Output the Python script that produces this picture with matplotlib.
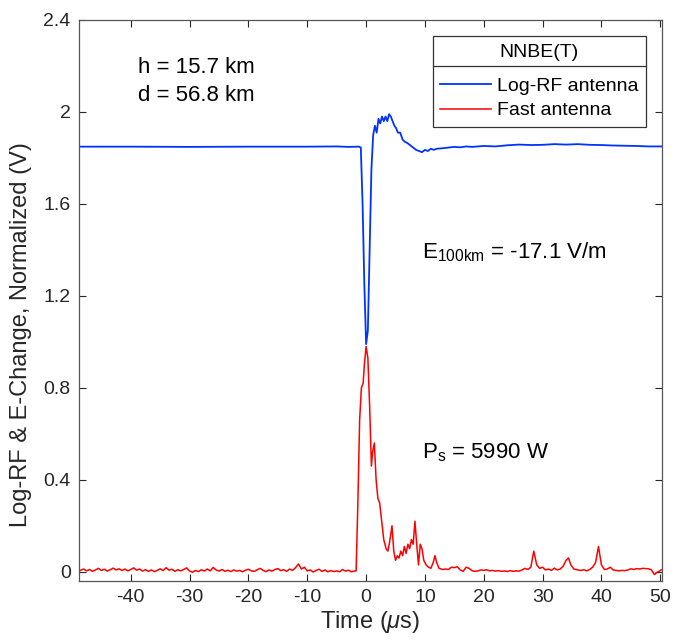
import numpy as np
import matplotlib.pyplot as plt
from matplotlib.lines import Line2D
from matplotlib.ticker import FormatStrFormatter

plt.rcParams['font.family'] = ['Liberation Sans', 'DejaVu Sans']
plt.rcParams['mathtext.fontset'] = 'custom'
plt.rcParams['mathtext.rm'] = 'Liberation Sans'
plt.rcParams['mathtext.it'] = 'Liberation Sans:italic'
plt.rcParams['axes.unicode_minus'] = False

# Log-RF antenna (blue)
rf_t = [-48.7, -40, -30, -20, -10, -5, -3, -1.2, -0.9, -0.6, -0.3, 0.0, 0.3, 0.6, 0.9,
        1.2, 1.5, 1.8, 2.1, 2.4, 2.7, 3.0, 3.3, 3.6, 3.9, 4.2, 4.5, 4.8, 5.1, 5.4,
        5.8, 6.2, 6.6, 7.0, 7.5, 8.0, 8.5, 9.0, 9.5, 10.0, 10.5, 11.0, 11.5, 12.0,
        13.0, 14.0, 15.0, 16.0, 17.0, 18.0, 20.0, 22.0, 24.0, 26.0, 28.0, 30.0,
        32.0, 34.0, 36.0, 38.0, 40.0, 42.0, 44.0, 46.0, 48.0, 50.3]
rf_v = [1.849, 1.849, 1.848, 1.849, 1.849, 1.850, 1.848, 1.849, 1.845, 1.60, 1.25, 0.99,
        1.05, 1.40, 1.75, 1.90, 1.94, 1.91, 1.97, 1.95, 1.98, 1.96, 1.98, 1.96, 1.99,
        1.98, 1.96, 1.94, 1.93, 1.91, 1.91, 1.88, 1.87, 1.865, 1.855, 1.845, 1.835,
        1.83, 1.825, 1.835, 1.83, 1.84, 1.835, 1.84, 1.842, 1.845, 1.848, 1.846,
        1.850, 1.848, 1.852, 1.850, 1.855, 1.858, 1.856, 1.857, 1.860, 1.858, 1.860,
        1.857, 1.856, 1.854, 1.853, 1.852, 1.850, 1.850]

# Fast antenna (red)
fa_t_pre = [-48.7, -48.0, -47.5, -47.0, -46.5, -46.0, -45.5, -45.0, -44.5, -44.0,
            -43.5, -43.0, -42.5, -42.0, -41.5, -41.0, -40.5, -40.0, -39.5, -39.0,
            -38.5, -38.0, -37.5, -37.0, -36.5, -36.0, -35.5, -35.0, -34.5, -34.0,
            -33.5, -33.0, -32.5, -32.0, -31.5, -31.0, -30.5, -30.0, -29.5, -29.0,
            -28.5, -28.0, -27.5, -27.0, -26.5, -26.0, -25.5, -25.0, -24.5, -24.0,
            -23.5, -23.0, -22.5, -22.0, -21.5, -21.0, -20.5, -20.0, -19.5, -19.0,
            -18.5, -18.0, -17.5, -17.0, -16.5, -16.0, -15.5, -15.0, -14.5, -14.0,
            -13.5, -13.0, -12.5, -12.0, -11.5, -11.0, -10.5, -10.0, -9.5, -9.0,
            -8.5, -8.0, -7.5, -7.0, -6.5, -6.0, -5.5, -5.0, -4.5, -4.0,
            -3.5, -3.0, -2.5, -2.0]
fa_v_pre = [0.005, 0.012, 0.004, 0.010, 0.002, 0.008, 0.015, 0.006, 0.011, 0.003,
            0.009, 0.016, 0.008, 0.013, 0.006, 0.012, 0.004, 0.010, 0.017, 0.007,
            0.012, 0.003, 0.009, 0.002, 0.008, 0.001, 0.006, 0.013, 0.005, 0.018,
            0.007, 0.011, 0.002, 0.009, 0.004, 0.010, 0.017, 0.003, -0.002, 0.006,
            0.001, 0.009, 0.003, 0.012, 0.004, 0.019, 0.008, 0.003, 0.010, 0.002,
            0.007, 0.001, 0.008, 0.003, 0.006, 0.000, 0.007, 0.011, 0.004, 0.002,
            0.009, 0.015, 0.006, 0.001, 0.008, 0.003, 0.010, 0.014, 0.005, 0.009,
            0.002, 0.012, 0.006, 0.018, 0.034, 0.012, 0.020, 0.004, 0.008, -0.001,
            0.006, 0.011, 0.002, 0.008, 0.000, 0.005, 0.001, 0.004, 0.000, 0.010,
            0.003, 0.007, 0.000, 0.003]
fa_t_post = [-1.7, -1.4, -1.1, -0.8, -0.5, -0.3, 0.0, 0.3, 0.6, 0.9, 1.1, 1.4, 1.7,
             2.0, 2.3, 2.7, 3.0, 3.4, 3.7, 4.0, 4.4, 4.7, 5.0, 5.3, 5.6, 5.9, 6.2,
             6.5, 6.8, 7.1, 7.4, 7.7, 8.0, 8.3, 8.6, 8.9, 9.2, 9.5, 9.8, 10.2, 10.6,
             11.0, 11.4, 11.7, 12.0, 12.4, 13.0, 13.5, 14.0, 14.5, 15.0, 15.5, 16.0,
             16.5, 17.0, 17.5, 18.0, 18.5, 19.0, 19.5, 20.0, 20.5, 21.0, 21.5, 22.0,
             22.5, 23.0, 23.5, 24.0, 24.5, 25.0, 25.5, 26.0, 26.5, 27.0, 27.5, 28.0,
             28.5, 29.0, 29.5, 30.0, 30.5, 31.0, 31.5, 32.0, 32.5, 33.0, 33.5, 34.0,
             34.4, 34.8, 35.3, 36.0, 36.5, 37.0, 37.5, 38.0, 38.5, 39.0, 39.5, 40.0,
             40.5, 41.0, 41.5, 42.0, 42.5, 43.0, 43.5, 44.0, 44.5, 45.0, 45.5, 46.0,
             46.5, 47.0, 47.5, 48.0, 48.5, 49.0, 49.5, 50.3]
fa_v_post = [0.004, 0.30, 0.66, 0.80, 0.82, 0.90, 0.98, 0.93, 0.72, 0.46, 0.52, 0.56,
             0.40, 0.32, 0.30, 0.21, 0.14, 0.10, 0.09, 0.13, 0.20, 0.09, 0.05, 0.07,
             0.06, 0.09, 0.07, 0.11, 0.08, 0.12, 0.10, 0.14, 0.12, 0.22, 0.12, 0.03,
             0.12, 0.10, 0.05, 0.03, 0.02, 0.015, 0.04, 0.07, 0.04, 0.015, 0.010,
             0.012, 0.010, 0.020, 0.018, 0.022, 0.008, 0.002, 0.020, 0.015, 0.005,
             0.002, 0.004, 0.008, 0.006, 0.009, 0.004, 0.006, 0.003, 0.005, 0.002,
             0.004, 0.001, 0.005, 0.002, 0.004, 0.003, 0.008, 0.015, 0.010, 0.020,
             0.090, 0.030, 0.015, 0.020, 0.008, 0.012, 0.006, 0.016, 0.008, 0.012,
             0.025, 0.050, 0.060, 0.030, 0.012, 0.008, 0.006, 0.009, 0.004, 0.010,
             0.020, 0.040, 0.110, 0.030, 0.010, 0.012, 0.020, 0.008, 0.006, 0.004,
             0.006, 0.005, 0.008, 0.013, 0.010, 0.014, 0.012, 0.015, 0.014, 0.013,
             0.008, -0.012, -0.002, 0.010]
fa_t = fa_t_pre + fa_t_post
fa_v = fa_v_pre + fa_v_post

x_ticks = [-40, -30, -20, -10, 0, 10, 20, 30, 40, 50]
y_ticks = [0, 0.4, 0.8, 1.2, 1.6, 2.0, 2.4]

grey = '#262626'

fig = plt.figure(figsize=(6.73, 6.40), dpi=100)
ax = fig.add_axes([0.1174, 0.0922, 0.8663, 0.8766])

ax.plot(rf_t, rf_v, color='#0033ff', lw=1.3, label='Log-RF antenna')
ax.plot(fa_t, fa_v, color='#ff0000', lw=1.1, label='Fast antenna')

ax.set_xlim(-48.8, 50.3)
ax.set_ylim(-0.04, 2.4)
ax.set_xticks(x_ticks)
ax.set_yticks(y_ticks)
ax.yaxis.set_major_formatter(FormatStrFormatter('%g'))
ax.tick_params(direction='in', top=True, right=True, labelsize=14,
               colors=grey, length=5, width=0.8, pad=6)
for s in ax.spines.values():
    s.set_color('#555555')
    s.set_linewidth(0.9)

ax.set_xlabel(r'Time ($\mu$s)', fontsize=17, color=grey, labelpad=2)
ax.set_ylabel('Log-RF & E-Change, Normalized (V)', fontsize=17, color=grey)
ax.yaxis.set_label_coords(-0.081, 0.44)

ax.text(-38.8, 2.195, 'h = 15.7 km', fontsize=16, va='center', color='k')
ax.text(-38.8, 2.07, 'd = 56.8 km', fontsize=16, va='center', color='k')
ax.text(9.5, 1.39, r'$\mathregular{E_{100km}}$ = -17.1 V/m', fontsize=16,
        va='center', color='k')
ax.text(9.5, 0.52, r'$\mathregular{P_{s}}$ = 5990 W', fontsize=16,
        va='center', color='k')

leg = ax.legend(title='NNBE(T)', loc='upper right', bbox_to_anchor=(0.9725, 0.9715),
                borderaxespad=0, fontsize=14, title_fontsize=14, fancybox=False,
                edgecolor='#333333', framealpha=1, handlelength=2.6,
                handletextpad=0.3, borderpad=0.4, labelspacing=0.35)
leg.get_frame().set_linewidth(0.9)
leg._legend_box.sep = 12

# separator under the legend title, like MATLAB draws it
fig.canvas.draw()
lb = leg.get_window_extent()
tb = leg.get_title().get_window_extent()
inv = fig.transFigure.inverted()
x0, y0 = inv.transform((lb.x0, tb.y0 - 5))
x1, _ = inv.transform((lb.x1, tb.y0 - 5))
fig.add_artist(Line2D([x0, x1], [y0, y0], color='#333333', lw=0.9))

fig.savefig('out.png', dpi=100)
